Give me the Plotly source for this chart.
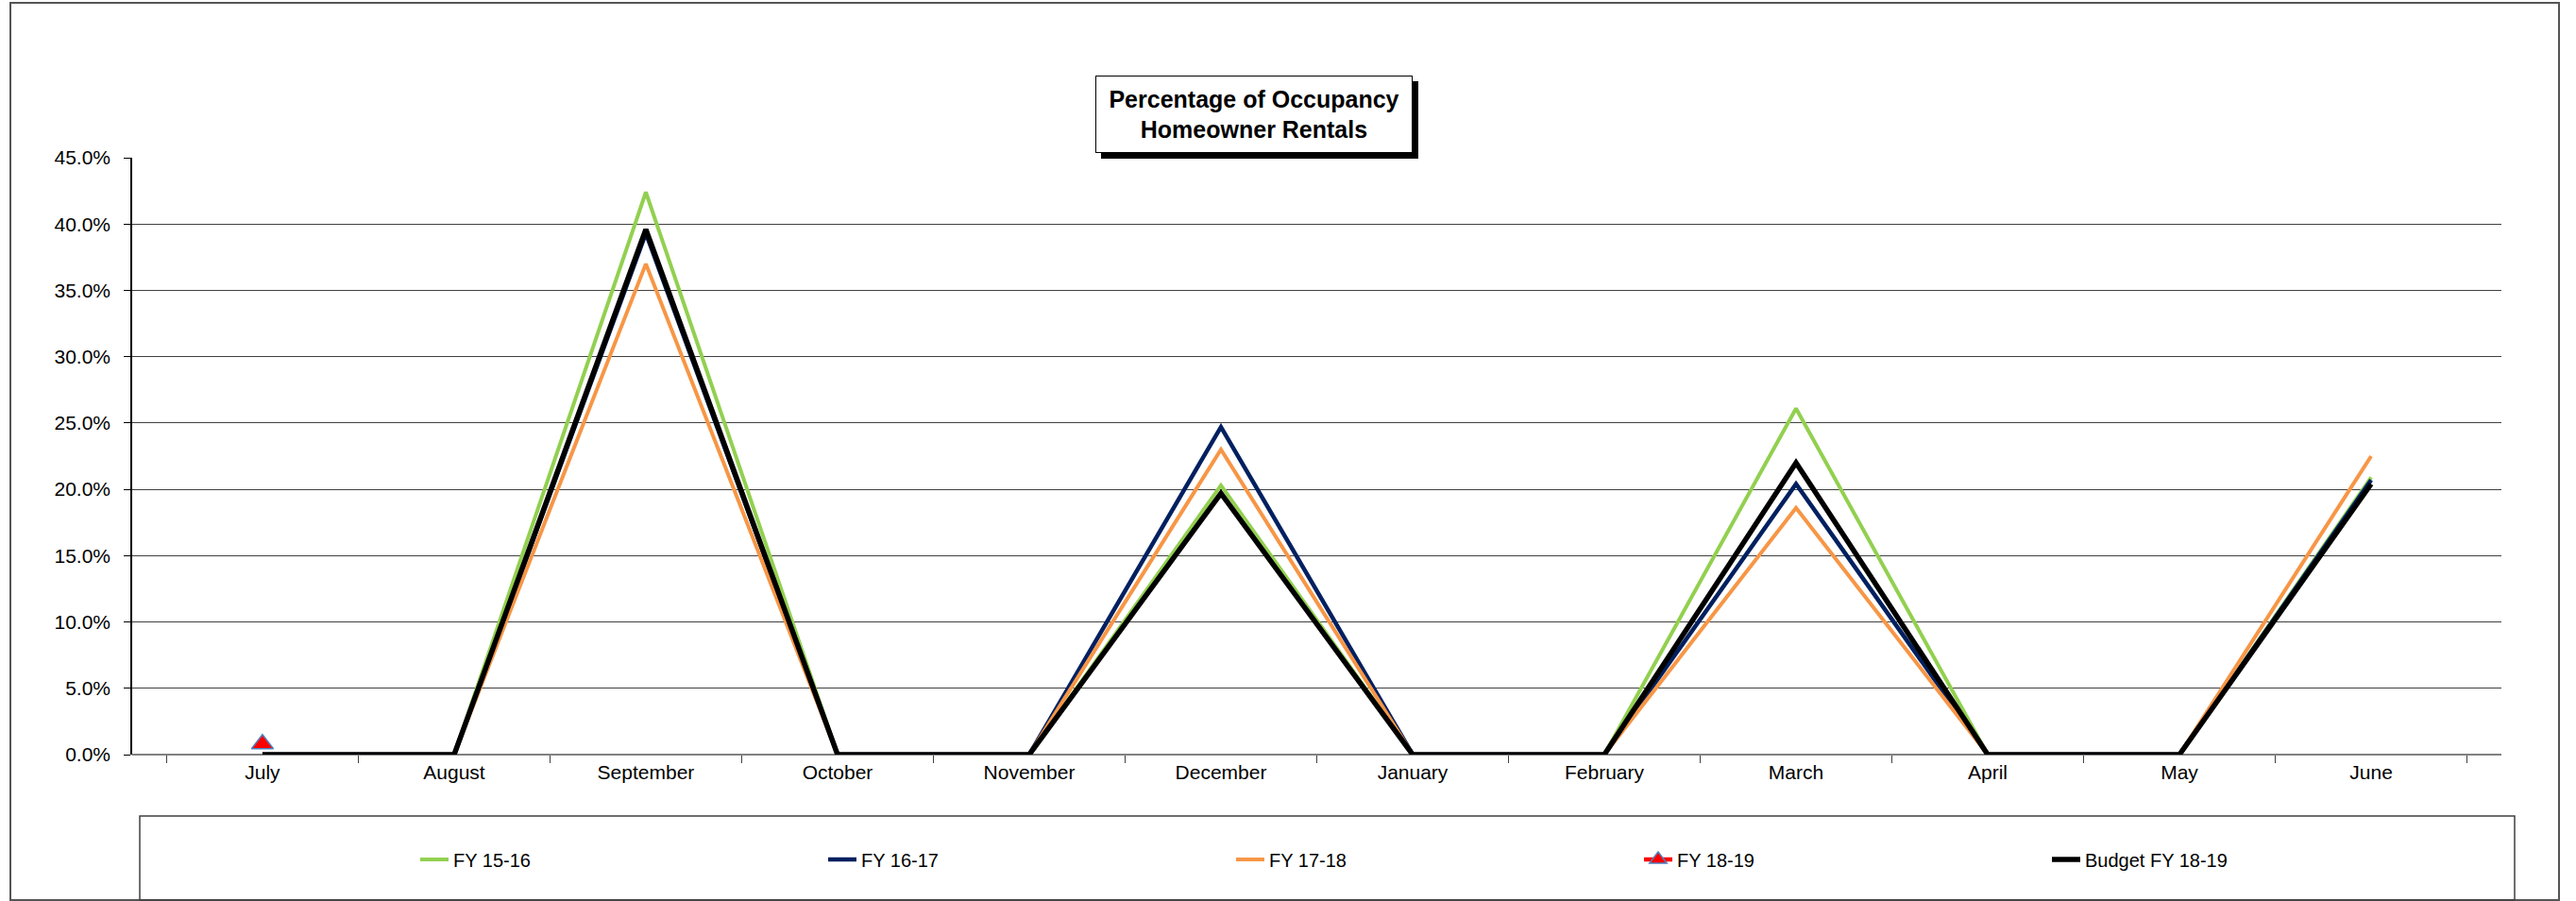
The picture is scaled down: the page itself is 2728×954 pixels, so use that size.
import plotly.graph_objects as go

months = ['July', 'August', 'September', 'October', 'November', 'December',
          'January', 'February', 'March', 'April', 'May', 'June']

fy_15_16 = [0, 0, 0.424, 0, 0, 0.203, 0, 0, 0.261, 0, 0, 0.209]
fy_16_17 = [0, 0, 0.393, 0, 0, 0.247, 0, 0, 0.204, 0, 0, 0.207]
fy_17_18 = [0, 0, 0.370, 0, 0, 0.230, 0, 0, 0.186, 0, 0, 0.225]
fy_18_19 = [0.008, None, None, None, None, None, None, None, None, None, None, None]
budget_18_19 = [0, 0, 0.396, 0, 0, 0.197, 0, 0, 0.220, 0, 0, 0.204]

W, H = 2728, 954
L, R, T, B = 140, 2649, 167, 799  # plot area in pixels


def px(x):
    return (x - L) / (R - L)


def py(y):
    return (B - y) / (B - T)


font = 'Liberation Sans, Arial, sans-serif'

fig = go.Figure()

fig.add_trace(go.Scatter(x=months, y=fy_15_16, mode='lines', name='FY 15-16',
                         line=dict(color='#92D050', width=4)))
fig.add_trace(go.Scatter(x=months, y=fy_16_17, mode='lines', name='FY 16-17',
                         line=dict(color='#002060', width=4.5)))
fig.add_trace(go.Scatter(x=months, y=fy_17_18, mode='lines', name='FY 17-18',
                         line=dict(color='#F79646', width=4)))
fig.add_trace(go.Scatter(x=months, y=fy_18_19, mode='lines+markers', name='FY 18-19',
                         line=dict(color='#FF0000', width=4.5),
                         marker=dict(symbol='triangle-up', size=20, color='#FF0000',
                                     line=dict(color='#4F81BD', width=1.5))))
fig.add_trace(go.Scatter(x=months, y=budget_18_19, mode='lines', name='Budget FY 18-19',
                         line=dict(color='#000000', width=5.5)))

# title box with drop shadow
title_text = '<b>Percentage of Occupancy<br>Homeowner Rentals</b>'
fig.add_annotation(x=px(1328), y=py(80), xref='paper', yref='paper',
                   text=' ', showarrow=False, xshift=6, yshift=-6,
                   width=320, height=66, borderpad=7, bgcolor='black',
                   bordercolor='black', borderwidth=1)
fig.add_annotation(x=px(1328), y=py(80), xref='paper', yref='paper',
                   text=title_text, showarrow=False,
                   font=dict(family=font, size=25, color='black'),
                   width=320, height=66, borderpad=7, bgcolor='white',
                   bordercolor='black', borderwidth=1)

fig.update_layout(
    width=W, height=H,
    margin=dict(l=L, r=W - R, t=T, b=H - B, pad=0, autoexpand=False),
    paper_bgcolor='white', plot_bgcolor='white',
    font=dict(family=font, size=21, color='black'),
    showlegend=True,
    legend=dict(orientation='h', x=px(440), y=py(910), xanchor='left', yanchor='middle',
                font=dict(family=font, size=20, color='black'),
                entrywidth=387, entrywidthmode='pixels',
                bgcolor='rgba(0,0,0,0)', borderwidth=0),
    xaxis=dict(type='category', showgrid=False, showline=False, zeroline=False,
               ticks='outside', tickson='boundaries', ticklen=8, tickcolor='#404040',
               tickfont=dict(size=21), ticklabelstandoff=4),
    yaxis=dict(range=[0, 0.45], dtick=0.05, tickformat='.1%', showgrid=True,
               gridcolor='#404040', gridwidth=1, zeroline=False,
               showline=True, linecolor='black', linewidth=1.5,
               ticks='outside', ticklen=7, tickcolor='black',
               tickfont=dict(size=21), ticklabelstandoff=10),
    shapes=[
        # outer chart border
        dict(type='rect', xref='paper', yref='paper', layer='below',
             x0=px(11), x1=px(2710), y0=py(953), y1=py(3),
             line=dict(color='#555555', width=2)),
        # legend box
        dict(type='rect', xref='paper', yref='paper', layer='below',
             x0=px(148), x1=px(2663), y0=py(953), y1=py(864),
             line=dict(color='#404040', width=1.5)),
        # x axis baseline
        dict(type='line', xref='paper', yref='paper', layer='below',
             x0=0, x1=1, y0=0, y1=0, line=dict(color='#808080', width=2)),
    ],
)

fig.write_html('out.html', config={'displayModeBar': False},
               post_script="document.body.style.margin='0';")
